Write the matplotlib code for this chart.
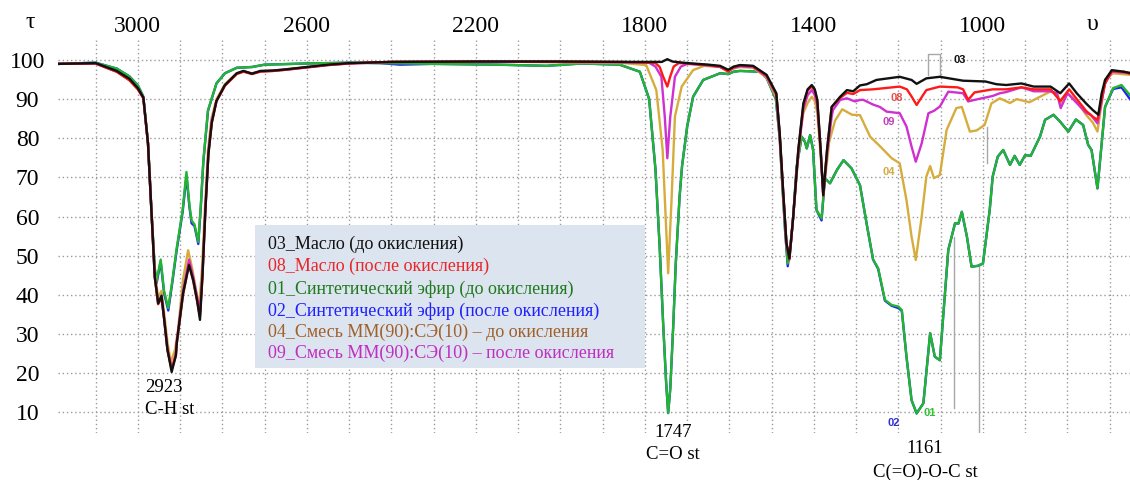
import matplotlib
matplotlib.use("Agg")
import matplotlib.pyplot as plt
import numpy as np
from matplotlib.patches import Rectangle

# wavenumber (cm-1), transmittance (%)
oil_before = [  # 03
    (3189, 99.0), (3100, 99.2), (3050, 97.2), (3020, 95.2), (3000, 92.8), (2987, 90.4),
    (2976, 78.7), (2968, 61.7), (2960, 44.6), (2952, 37.8), (2944, 39.8), (2938, 34),
    (2930, 26), (2920, 20.3), (2910, 24.5), (2908, 27.6), (2893, 40.4), (2879, 47.6),
    (2869, 43.8), (2860, 38.7), (2853, 33.6), (2847, 45), (2840, 62), (2833, 76),
    (2825, 84), (2814, 89.5), (2794, 93.6), (2766, 96.6), (2750, 97.2), (2730, 96.5),
    (2710, 97.2), (2680, 97.3), (2650, 97.6), (2600, 98.2), (2550, 98.8), (2500, 99.2),
    (2400, 99.5), (2200, 99.6), (2000, 99.6), (1850, 99.5), (1760, 99.5), (1747, 100.2),
    (1735, 99.6), (1700, 99.2), (1650, 98.8), (1622, 98.5), (1603, 97.5), (1590, 98.3),
    (1575, 98.7), (1544, 98.5), (1512, 96.2), (1489, 91.5), (1481, 81.3), (1473, 66.8),
    (1465, 53.2), (1458, 49.3), (1449, 60), (1437, 77), (1425, 88.9), (1415, 92.5),
    (1405, 93.6), (1398, 92.5), (1392, 89.8), (1384, 77), (1378, 65.5), (1369, 77),
    (1358, 88), (1338, 90.6), (1322, 92.3), (1307, 92), (1291, 93.5), (1275, 93.8),
    (1252, 94.9), (1197, 95.7), (1169, 94.9), (1157, 93.9), (1134, 95.3), (1102, 95.7),
    (1047, 94.7), (994, 94.5), (968, 93.8), (945, 93.6), (909, 94), (880, 93.2),
    (840, 93.2), (817, 91.5), (796, 94), (778, 91.5), (756, 88.9), (740, 87.2),
    (727, 86), (719, 91.5), (711, 94.9), (695, 97.4), (667, 97), (652, 96.7),
]
oil_after = [  # 08
    (3189, 99.0), (3100, 99.1), (3050, 97.0), (3020, 94.8), (3000, 92.5), (2987, 90.2),
    (2976, 78.5), (2968, 61.5), (2960, 44.5), (2952, 37.6), (2944, 39.2), (2938, 34),
    (2930, 26), (2920, 21), (2910, 24.5), (2908, 27.5), (2893, 40), (2879, 47.8),
    (2869, 43.5), (2860, 38.5), (2853, 34.5), (2847, 45), (2840, 62), (2833, 76),
    (2825, 84), (2814, 89.5), (2794, 93.4), (2766, 96.4), (2750, 97.0), (2730, 96.4),
    (2710, 97.0), (2680, 97.2), (2650, 97.5), (2600, 98.1), (2550, 98.7), (2500, 99.1),
    (2400, 99.5), (2200, 99.6), (2000, 99.6), (1850, 99.5), (1775, 99.2), (1765, 98.2),
    (1757, 95.8), (1747, 93.2), (1740, 95.8), (1732, 98.3), (1720, 99.2), (1700, 99.1),
    (1650, 98.7), (1622, 98.3), (1603, 97.0), (1590, 98.2), (1575, 98.6), (1544, 98.4),
    (1512, 96.0), (1489, 91.3), (1481, 81), (1473, 66.5), (1465, 53), (1458, 49),
    (1449, 60), (1437, 77), (1425, 88.5), (1415, 92.2), (1405, 93.2), (1398, 92.2),
    (1392, 89.5), (1384, 77), (1378, 65.3), (1369, 77), (1358, 88), (1338, 90.3),
    (1322, 91.6), (1307, 91.3), (1291, 92.3), (1260, 92.5), (1197, 93.2), (1180, 92.5),
    (1168, 90.5), (1157, 88.5), (1145, 90.5), (1134, 92.3), (1102, 93.2), (1060, 93),
    (1047, 92.5), (1035, 89.8), (1020, 91.7), (977, 92.5), (945, 92.5), (909, 93),
    (880, 92.5), (840, 92.5), (817, 89.5), (796, 92.5), (778, 90), (756, 87),
    (740, 85.5), (729, 84.7), (719, 90), (711, 94), (695, 97.2), (667, 97.0), (652, 96.5),
]
ester_before = [  # 01
    (3189, 99.0), (3100, 99.3), (3050, 97.8), (3020, 95.8), (3000, 93.5), (2987, 90.6),
    (2976, 78.7), (2968, 61.7), (2960, 47), (2956, 43.4), (2946, 49), (2938, 41),
    (2928, 36.6), (2918, 44), (2908, 52), (2894, 61.7), (2885, 71.4), (2878, 63),
    (2873, 59), (2866, 58), (2857, 53.5), (2851, 63), (2845, 74.4), (2834, 87.2),
    (2814, 94), (2794, 96.6), (2766, 98), (2730, 98.2), (2700, 98.8), (2600, 99.1),
    (2500, 99.3), (2427, 99.2), (2300, 99), (2150, 98.8), (2033, 98.5), (1950, 99.1),
    (1860, 98.8), (1812, 97), (1790, 90), (1775, 72), (1765, 52), (1757, 33),
    (1750, 18), (1745, 9.8), (1740, 16), (1733, 32), (1727, 48), (1718, 65),
    (1712, 73), (1700, 83), (1686, 90.6), (1662, 94.9), (1622, 96.6), (1603, 96.4),
    (1590, 97), (1575, 97.2), (1528, 97), (1512, 95.4), (1490, 90), (1481, 80),
    (1475, 68.5), (1468, 56), (1462, 48), (1455, 53), (1449, 60), (1441, 72.7),
    (1429, 80.4), (1421, 79), (1417, 77.4), (1409, 80.8), (1402, 77), (1394, 61.7),
    (1382, 59.5), (1374, 69.8), (1362, 68.5), (1345, 72), (1330, 74.4), (1311, 72.3),
    (1291, 68), (1275, 58), (1260, 49), (1248, 46.8), (1232, 38.7), (1216, 37.4),
    (1200, 37), (1192, 36.1), (1181, 24.2), (1169, 13.1), (1157, 9.7), (1141, 12.3),
    (1125, 30.2), (1114, 24.2), (1102, 23.3), (1082, 51.5), (1066, 58.3), (1058, 58.2),
    (1050, 61.2), (1038, 54.9), (1027, 47.2), (1012, 47.4), (1000, 48), (984, 61.7),
    (977, 70.2), (965, 75.3), (952, 77), (936, 73.2), (925, 75.5), (913, 73.2),
    (900, 75.7), (887, 75.5), (865, 80.4), (853, 84.7), (833, 86), (817, 84.2),
    (798, 81.7), (780, 84.8), (763, 83.4), (751, 78.3), (743, 77), (729, 67.2),
    (719, 78.7), (711, 88), (692, 92.8), (672, 93.6), (652, 91),
]
ester_after = [  # 02
    (3189, 99.0), (3100, 99.3), (3050, 97.8), (3020, 95.8), (3000, 93.5), (2987, 90.6),
    (2976, 78.7), (2968, 61.7), (2960, 46.5), (2956, 42.8), (2946, 48.5), (2938, 40.5),
    (2928, 36.0), (2918, 43.5), (2908, 51.5), (2894, 61.2), (2885, 70.4), (2878, 62.5),
    (2873, 58.3), (2866, 57.6), (2857, 53.0), (2851, 62.5), (2845, 74), (2834, 87),
    (2814, 94), (2794, 96.6), (2766, 98), (2730, 98.2), (2700, 98.8), (2600, 99.1),
    (2500, 99.3), (2427, 99.2), (2380, 98.8), (2300, 99), (2150, 98.8), (2033, 98.5),
    (1950, 99.1), (1860, 98.8), (1812, 97), (1790, 90), (1775, 72), (1765, 52),
    (1757, 33), (1750, 18), (1745, 9.8), (1740, 16), (1733, 32), (1727, 48),
    (1718, 65), (1712, 73), (1700, 83), (1686, 90.6), (1662, 94.9), (1622, 96.6),
    (1603, 96.4), (1590, 97), (1575, 97.2), (1528, 97), (1512, 95.4), (1490, 90),
    (1481, 80), (1475, 68.5), (1468, 56), (1462, 47.3), (1455, 53), (1449, 60),
    (1441, 72.7), (1429, 80.4), (1421, 79), (1417, 77.4), (1409, 80.8), (1402, 77),
    (1394, 61.7), (1382, 59.0), (1374, 69.8), (1362, 68.5), (1345, 72), (1330, 74.4),
    (1311, 72.3), (1291, 68), (1275, 58), (1260, 49), (1248, 46.6), (1232, 38.5),
    (1216, 37.2), (1200, 36.6), (1192, 35.9), (1181, 24.2), (1169, 13.1), (1157, 9.7),
    (1141, 12.3), (1125, 30.2), (1114, 24.2), (1102, 23.3), (1082, 51.5), (1066, 58.3),
    (1058, 58.2), (1050, 61.2), (1038, 54.9), (1027, 47.2), (1012, 47.4), (1000, 48),
    (984, 61.7), (977, 70.2), (965, 75.3), (952, 77), (936, 73.2), (925, 75.5),
    (913, 73.2), (900, 75.7), (887, 75.5), (865, 80.4), (853, 84.7), (833, 86),
    (817, 84.2), (798, 81.7), (780, 84.8), (763, 83.4), (751, 78.3), (743, 77),
    (729, 67.2), (719, 78.7), (711, 88), (692, 92.6), (672, 93.0), (652, 90),
]
mix_before = [  # 04
    (3189, 99.0), (3100, 99.1), (3050, 97.0), (3020, 94.9), (3000, 92.6), (2987, 90.3),
    (2976, 79), (2968, 62), (2960, 45.5), (2952, 39.5), (2944, 41), (2938, 35.5),
    (2930, 28), (2922, 22.8), (2912, 26), (2905, 31), (2893, 44), (2881, 51.4),
    (2871, 46.5), (2862, 41), (2855, 37), (2848, 47), (2841, 63), (2834, 77),
    (2826, 85), (2814, 90), (2794, 93.8), (2766, 96.6), (2750, 97.1), (2730, 96.6),
    (2710, 97.1), (2680, 97.3), (2650, 97.6), (2600, 98.2), (2550, 98.8), (2500, 99.2),
    (2400, 99.5), (2200, 99.6), (2000, 99.4), (1850, 99.2), (1797, 98.7), (1773, 92.3),
    (1758, 77), (1751, 60), (1745, 45.5), (1741, 55), (1737, 64.2), (1729, 85.5),
    (1713, 93.2), (1686, 97.4), (1660, 98.5), (1622, 98.2), (1603, 97.2), (1590, 97.8),
    (1575, 98.2), (1544, 98.0), (1512, 95.5), (1489, 90.5), (1481, 80.5), (1473, 66),
    (1465, 53), (1458, 49.8), (1449, 60), (1437, 75.5), (1430, 83), (1425, 86.5),
    (1415, 89), (1405, 90.6), (1398, 89.5), (1392, 86.5), (1384, 75.5), (1378, 66),
    (1369, 74), (1364, 79), (1350, 84.5), (1333, 87.4), (1310, 86), (1291, 85.9),
    (1267, 80.4), (1244, 78), (1216, 74.9), (1197, 73.6), (1181, 64.2), (1169, 54.9),
    (1159, 48.9), (1145, 60), (1134, 70.2), (1125, 72.9), (1116, 69.8), (1102, 70.6),
    (1086, 82.1), (1063, 87.7), (1050, 88), (1031, 81.7), (1015, 82), (996, 83.4),
    (980, 88.9), (960, 90.2), (952, 89.8), (936, 89), (920, 90), (890, 89.2),
    (865, 90.6), (841, 91.9), (825, 91.5), (816, 89), (800, 91.5), (778, 89.5),
    (756, 86), (740, 84), (729, 81.7), (719, 89), (711, 94.9), (692, 96.6), (652, 96.2),
]
mix_after = [  # 09
    (3189, 99.0), (3100, 99.1), (3050, 97.0), (3020, 94.9), (3000, 92.6), (2987, 90.3),
    (2976, 78.6), (2968, 61.6), (2960, 44.6), (2952, 38), (2944, 39.6), (2938, 34),
    (2930, 26), (2920, 21), (2910, 25), (2908, 28), (2893, 41), (2879, 49),
    (2869, 44.5), (2860, 39.5), (2853, 35.5), (2847, 46), (2840, 62.5), (2833, 76.5),
    (2825, 84.5), (2814, 89.5), (2794, 93.5), (2766, 96.5), (2750, 97.1), (2730, 96.5),
    (2710, 97.1), (2680, 97.2), (2650, 97.5), (2600, 98.1), (2550, 98.7), (2500, 99.1),
    (2400, 99.5), (2200, 99.6), (2000, 99.5), (1850, 99.4), (1790, 99.3), (1775, 98.3),
    (1761, 95.7), (1753, 85.5), (1747, 74.9), (1740, 85.5), (1729, 95.7), (1715, 98.3),
    (1700, 99), (1650, 98.6), (1622, 98.2), (1603, 97.2), (1590, 98.0), (1575, 98.4),
    (1544, 98.2), (1512, 95.8), (1489, 91), (1481, 81), (1473, 66.5), (1465, 53),
    (1458, 49.3), (1449, 60), (1437, 76.5), (1425, 87.5), (1415, 91), (1405, 92.3),
    (1398, 91), (1392, 88.5), (1384, 76.5), (1378, 65.5), (1369, 76), (1358, 85.5),
    (1355, 87.2), (1338, 89.8), (1322, 90.2), (1303, 89.4), (1291, 89.8), (1283, 89.8),
    (1260, 88.6), (1244, 88.0), (1228, 86.8), (1197, 86.4), (1181, 83), (1169, 77.9),
    (1159, 74), (1145, 78.7), (1129, 86.4), (1116, 87), (1102, 88.1), (1082, 91.9),
    (1047, 91.5), (1035, 89.4), (1020, 89.8), (977, 90.8), (960, 91.5), (945, 91.8),
    (909, 93), (880, 92), (840, 92), (825, 91.5), (816, 87.7), (800, 91.5),
    (778, 89), (756, 86.5), (745, 86), (729, 83.8), (719, 89.5), (711, 94),
    (695, 97), (667, 96.8), (652, 96.6),
]

legend_labels = [
    "03_Масло (до окисления)",
    "08_Масло (после окисления)",
    "01_Синтетический эфир (до окисления)",
    "02_Синтетический эфир (после окисления)",
    "04_Смесь ММ(90):СЭ(10) – до окисления",
    "09_Смесь ММ(90):СЭ(10) – после окисления",
]
legend_colors = ["#111111", "#e8262a", "#1f7a1f", "#1f1fff", "#a0602a", "#c02ec0"]

peaks = [(2983, "2923\nC-H st"), (1734, "1747\nC=O st"), (1137, "1161\nC(=O)-O-C st")]
xtick_vals = [3000, 2600, 2200, 1800, 1400, 1000]
ytick_vals = [10, 20, 30, 40, 50, 60, 70, 80, 90, 100]


def main():
    fig = plt.figure(figsize=(11.3, 4.8), dpi=100)
    ax = fig.add_axes([58 / 1130, 47 / 480, 1072 / 1130, 393 / 480])
    serif = "Liberation Serif"

    # draw order: esters under, oils on top
    series = [
        (ester_after, "#1f1fff"),
        (ester_before, "#22b530"),
        (mix_before, "#d6ad3c"),
        (mix_after, "#d030d0"),
        (oil_after, "#ff1a1a"),
        (oil_before, "#111111"),
    ]
    for data, col in series:
        arr = np.array(data)
        ax.plot(arr[:, 0], arr[:, 1], color=col, lw=1.7, zorder=3)

    ax.set_xlim(3189, 652)
    ax.set_ylim(4.7, 105.1)
    ax.set_xticks(xtick_vals)
    ax.set_xticks(np.arange(700, 3101, 100), minor=True)
    ax.set_yticks(ytick_vals)
    ax.xaxis.tick_top()
    ax.tick_params(axis="both", which="both", length=0)
    ax.tick_params(axis="x", pad=2, labelsize=17)
    ax.tick_params(axis="y", pad=22, labelsize=17)
    for lab in ax.get_xticklabels() + ax.get_yticklabels():
        lab.set_fontfamily(serif)
    for lab in ax.get_yticklabels():
        lab.set_horizontalalignment("center")
    ax.grid(True, which="both", axis="x", color="#9a9a9a", ls=(0, (1, 2)), lw=1)
    ax.grid(True, which="major", axis="y", color="#9a9a9a", ls=(0, (1, 2)), lw=1)
    for s in ax.spines.values():
        s.set_visible(False)

    # legend box
    ax.add_patch(Rectangle((0.1838, 0.1654), 0.3638, 0.3636, transform=ax.transAxes,
                           facecolor="#dce4ef", edgecolor="none", zorder=2))
    ys = [0.481, 0.423, 0.366, 0.311, 0.255, 0.203]
    for lab, col, yy in zip(legend_labels, legend_colors, ys):
        ax.text(0.196, yy, lab, transform=ax.transAxes, color=col, fontsize=13,
                family=serif, va="center", ha="left", zorder=4)

    # curve tags
    tags = [(1054, 100, "03", "#111111"), (1204, 90.2, "08", "#e85050"),
            (1224, 84.2, "09", "#c040c0"), (1224, 71.5, "04", "#d4aa40"),
            (1125, 9.7, "01", "#30c030"), (1212, 7.2, "02", "#3030d0")]
    for x, y, t, c in tags:
        ax.text(x, y, t, color=c, fontsize=8, fontweight="bold", family="Liberation Sans",
                ha="center", va="center", zorder=5)

    # stray gray marks from the original
    gc = "#a8a8a8"
    ax.plot([1130, 1130, 1102, 1102], [96.2, 101.5, 101.5, 96.2], color=gc, lw=1, zorder=2)
    ax.plot([1069, 1069], [54.8, 11.0], color=gc, lw=1, zorder=2)
    ax.plot([1010, 1010], [48, 5.0], color=gc, lw=1, zorder=2)
    ax.plot([991, 991], [83, 73.6], color=gc, lw=1, zorder=2)

    # peak annotations
    ax.text(peaks[0][0], 18.5, peaks[0][1], family=serif, fontsize=13.5, ha="left",
            va="top", linespacing=1.4, clip_on=False)
    ax.text(peaks[1][0], 7.0, peaks[1][1], family=serif, fontsize=13.5, ha="center",
            va="top", linespacing=1.4, clip_on=False)
    ax.text(peaks[2][0], 2.8, peaks[2][1], family=serif, fontsize=13.5, ha="center",
            va="top", linespacing=1.45, clip_on=False)

    fig.text(30 / 1130, 1 - 23 / 480, "τ", family=serif, fontsize=17, ha="center", va="center")
    fig.text(1093 / 1130, 1 - 25 / 480, "υ", family=serif, fontsize=17, ha="center", va="center")

    fig.savefig("out.png", dpi=100)
    plt.close()


if __name__ == '__main__':
    main()
